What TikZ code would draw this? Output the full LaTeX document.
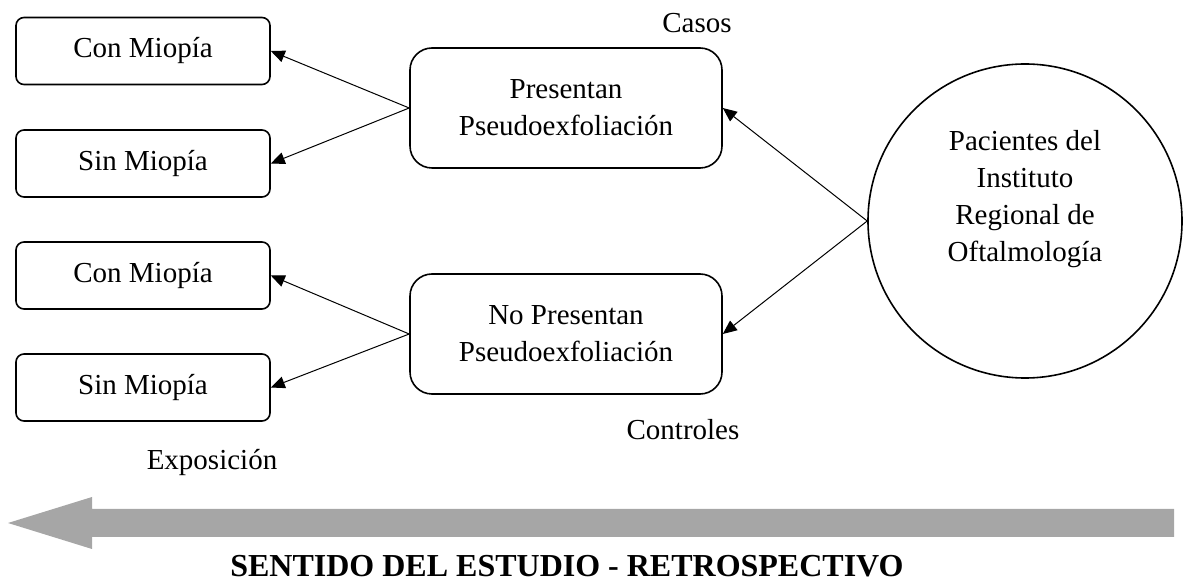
\documentclass[tikz,border=0pt]{standalone}
\usepackage{fontspec}
\setmainfont{Liberation Serif}
\usetikzlibrary{arrows.meta}
\definecolor{flechagris}{HTML}{A6A6A6}

\begin{document}
\begin{tikzpicture}[x=0.5pt,y=-0.5pt,
  font=\fontsize{14.5}{18.5}\selectfont,
  caja/.style={draw,line width=0.8pt,rounded corners=4pt,minimum width=127pt,minimum height=33.5pt},
  grupo/.style={draw,line width=0.8pt,rounded corners=11pt,minimum width=156pt,minimum height=60pt,align=center},
  flecha/.style={line width=0.5pt,-{Triangle[length=7pt,width=6pt]}}]
\useasboundingbox (0,0) rectangle (1184,587);

\node[caja] (con1) at (143,51)    {Con Miopía};
\node[caja] (sin1) at (143,163.5) {Sin Miopía};
\node[caja] (con2) at (143,275.5) {Con Miopía};
\node[caja] (sin2) at (143,387.5) {Sin Miopía};
\node[grupo] (pres) at (566,108) {Presentan\\Pseudoexfoliación};
\node[grupo] (nopres) at (566,334) {No Presentan\\Pseudoexfoliación};
\node[circle,draw,line width=0.8pt,minimum size=157pt] (pac) at (1025,221) {};
\node[align=center] (pactxt) at (1025,199) {Pacientes del\\Instituto\\Regional de\\Oftalmología};
\node (casos) at (697,23) {Casos};
\node (controles) at (683,430) {Controles};
\node (expo) at (212,463) {Exposición};
\node[font=\fontsize{16}{19}\selectfont\bfseries] (sentido) at (567,566) {SENTIDO DEL ESTUDIO - RETROSPECTIVO};

\path [flecha]
(pres.west) edge (con1.east)
            edge (sin1.east)
(nopres.west) edge (con2.east)
              edge (sin2.east)
(pac.west) edge (pres.east)
           edge (nopres.east);

\fill[flechagris] (1174,509) -- (92,509) -- (92,497) -- (8,523) -- (92,549) -- (92,537) -- (1174,537) -- cycle;
\end{tikzpicture}
\end{document}
